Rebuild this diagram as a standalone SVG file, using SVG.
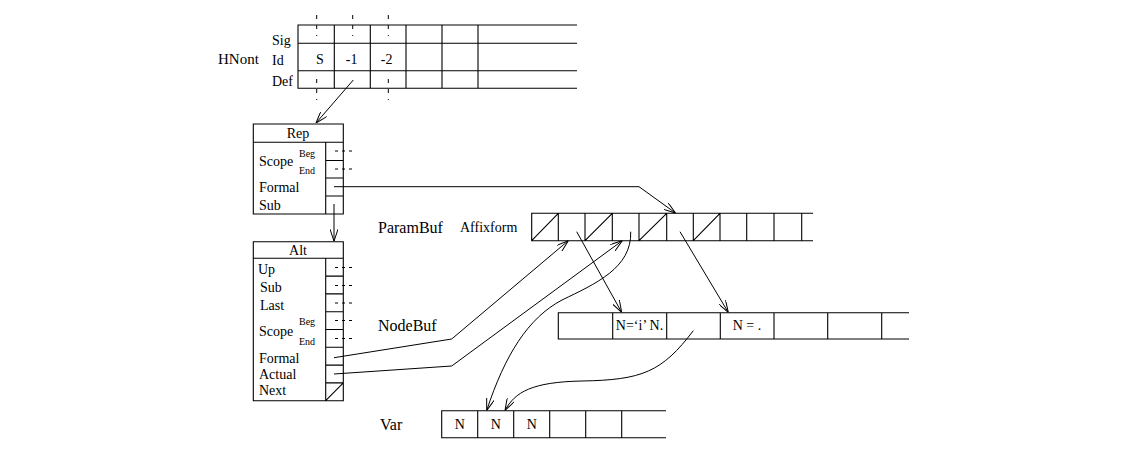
<svg xmlns="http://www.w3.org/2000/svg" width="1139" height="455" viewBox="0 0 1139 455">
<defs>
<style>
text{font-family:"Liberation Serif","Times New Roman",serif;fill:#000}
.t14{font-size:14px}
.t16{font-size:16px}
.t13{font-size:14px}
.sm{font-size:10px}
.mid{text-anchor:middle}
.box{fill:none;stroke:#000;stroke-width:1.1}
.ln{fill:none;stroke:#000;stroke-width:1}
.dash{fill:none;stroke:#000;stroke-width:1;stroke-dasharray:3,4}
.vd{fill:none;stroke:#000;stroke-width:1;stroke-dasharray:4,6}
.arr{fill:none;stroke:#000;stroke-width:1;marker-end:url(#ah)}
</style>
<marker id="ah" viewBox="0 0 12 8" refX="12" refY="4" markerWidth="12" markerHeight="8" markerUnits="userSpaceOnUse" orient="auto">
<path d="M0,0 L12,4 L0,8" fill="none" stroke="#000" stroke-width="1"/>
</marker>
</defs>
<rect width="1139" height="455" fill="#fff"/>

<g id="hnont">
<text class="t14" x="218" y="64" style="font-size:15px">HNont</text>
<text class="t14" x="272" y="45">Sig</text>
<text class="t14" x="272" y="65">Id</text>
<text class="t14" x="272" y="86">Def</text>
<path class="box" d="M577,25 H298 V88.3 H577 M298,43.3 H577 M298,70.7 H577 M334.3,25 V88.3 M370.3,25 V88.3 M406,25 V88.3 M442,25 V88.3 M478,25 V88.3"/>
<path class="vd" d="M316.7,15 V36 M352.7,15 V36 M388.3,15 V36 M316.7,79 V100 M388.3,79 V100"/>
<text class="t14 mid" x="320" y="64">S</text>
<text class="t14 mid" x="351.7" y="64">-1</text>
<text class="t14 mid" x="386.7" y="64">-2</text>
</g>

<g id="rep">
<path class="box" d="M253.3,124 H343.3 V214 H253.3 Z M253.3,142.3 H343.3 M325.7,142.3 V214 M325.7,160.5 H343.3 M325.7,178 H343.3 M325.7,196 H343.3"/>
<text class="t14 mid" x="298" y="138">Rep</text>
<text class="t14" x="259" y="166">Scope</text>
<text class="sm" x="299" y="156.5">Beg</text>
<text class="sm" x="299" y="174">End</text>
<text class="t14" x="259" y="191.5">Formal</text>
<text class="t14" x="259" y="210">Sub</text>
<path class="dash" d="M335,151 H354 M335,169 H354"/>
</g>

<g id="alt">
<path class="box" d="M253.3,241.7 H343.3 V400.7 H253.3 Z M253.3,258.3 H343.3 M325.7,258.3 V400.7 M325.7,276.1 H343.3 M325.7,293.9 H343.3 M325.7,311.7 H343.3 M325.7,329.5 H343.3 M325.7,347.3 H343.3 M325.7,365.1 H343.3 M325.7,382.9 H343.3 M325.7,400.7 L343.3,382.9"/>
<text class="t14 mid" x="298" y="254.5">Alt</text>
<text class="t14" x="258" y="273.5">Up</text>
<text class="t14" x="260" y="291.5">Sub</text>
<text class="t14" x="260" y="309.5">Last</text>
<text class="t14" x="259" y="335.5">Scope</text>
<text class="sm" x="299" y="325">Beg</text>
<text class="sm" x="299" y="344.5">End</text>
<text class="t14" x="259" y="363">Formal</text>
<text class="t14" x="259" y="379">Actual</text>
<text class="t14" x="259" y="395">Next</text>
<path class="dash" d="M335,267.5 H354 M335,285.5 H354 M335,303 H354 M335,320.5 H354 M335,338.5 H354"/>
</g>

<g id="parambuf">
<text class="t16" x="378" y="232.5">ParamBuf</text>
<text class="t13" x="460" y="232">Affixform</text>
<path class="box" d="M813,213.3 H531.7 V240.7 H813 M558.3,213.3 V240.7 M585,213.3 V240.7 M612.3,213.3 V240.7 M639,213.3 V240.7 M666.7,213.3 V240.7 M693.3,213.3 V240.7 M720,213.3 V240.7 M746.7,213.3 V240.7 M774,213.3 V240.7 M801.7,213.3 V240.7 M531.7,240.7 L558.3,213.3 M585,240.7 L612.3,213.3 M639,240.7 L666.7,213.3 M693.3,240.7 L720,213.3"/>
</g>

<g id="nodebuf">
<text class="t16" x="378" y="331">NodeBuf</text>
<path class="box" d="M909,312.7 H558.3 V339 H909 M612.7,312.7 V339 M666.7,312.7 V339 M720.3,312.7 V339 M774,312.7 V339 M827.7,312.7 V339 M881.7,312.7 V339"/>
<text class="t14 mid" x="639.5" y="330">N=‘i’ N.</text>
<text class="t14 mid" x="747" y="330">N = .</text>
</g>

<g id="var">
<text class="t16" x="380" y="429.5">Var</text>
<path class="box" d="M666,410.7 H441.7 V437.7 H666 M477.7,410.7 V437.7 M513.7,410.7 V437.7 M549.7,410.7 V437.7 M585.7,410.7 V437.7 M621.7,410.7 V437.7"/>
<text class="t13 mid" x="459.7" y="429">N</text>
<text class="t13 mid" x="495.7" y="429">N</text>
<text class="t13 mid" x="531.7" y="429">N</text>
</g>

<g id="connectors">
<path class="arr" d="M353.3,80 L316,123"/>
<path class="arr" d="M334,204 V241.2"/>
<path class="arr" d="M334,186.7 H639 L675.5,213"/>
<path class="arr" d="M334,357.7 L451.7,339 L568.3,240.7"/>
<path class="arr" d="M334,374 L451.7,366 L622.3,240.7"/>
<path class="arr" d="M576.7,231.7 L621.7,312.4"/>
<path class="arr" d="M680,231.7 L728.3,312.4"/>
<path class="arr" d="M630.7,231.7 C632,268 595,284 562,300 C528,318 505,355 486.7,410.4"/>
<path class="arr" d="M693.3,330.7 C662,372 642,380 582,381 C532,382 515,392 505,410.4"/>
</g>
</svg>
